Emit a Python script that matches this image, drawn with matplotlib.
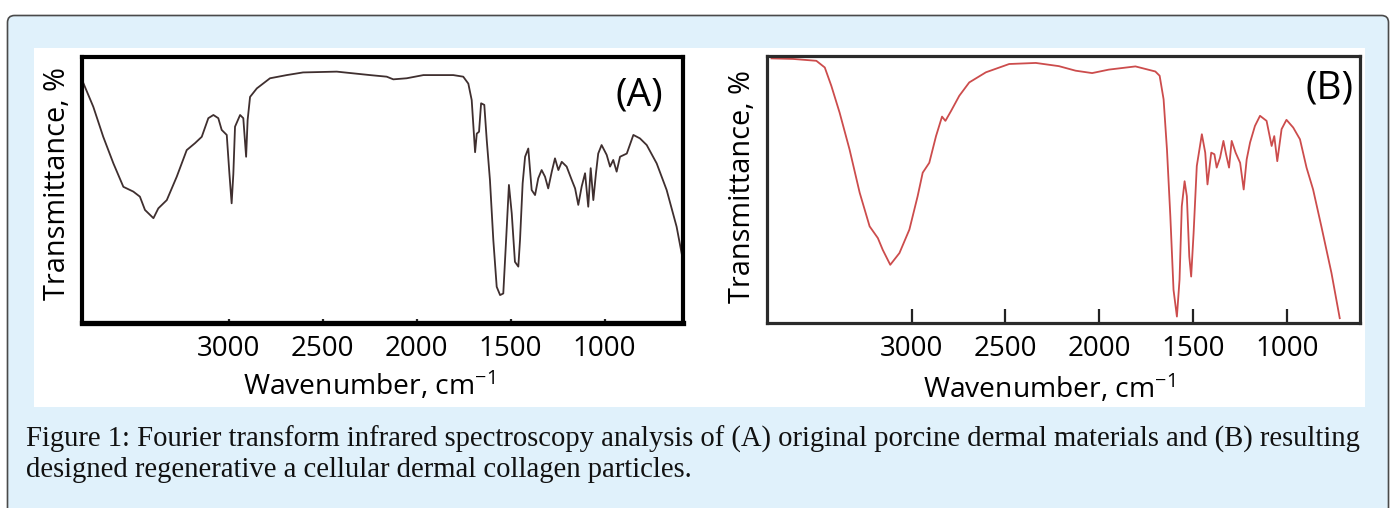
import matplotlib
matplotlib.use("Agg")
import matplotlib.pyplot as plt
from matplotlib.patches import FancyBboxPatch, Rectangle
from matplotlib.transforms import IdentityTransform

plt.rcParams['font.family'] = ['Open Sans', 'DejaVu Sans']
plt.rcParams['mathtext.default'] = 'regular'

# ---------------- data ----------------
tick_values = [3000, 2500, 2000, 1500, 1000]
tick_labels = ["3000", "2500", "2000", "1500", "1000"]

wn_a = [3780, 3720, 3667, 3613, 3560, 3507, 3472, 3445, 3400, 3374, 3329, 3276,
        3223, 3179, 3143, 3108, 3081, 3055, 3037, 3010, 2996, 2984, 2975, 2966,
        2939, 2922, 2907, 2899, 2886, 2850, 2780, 2691, 2604, 2425, 2248, 2159,
        2124, 2053, 1964, 1805, 1752, 1725, 1707, 1689, 1680, 1668, 1657, 1640,
        1627, 1610, 1592, 1574, 1556, 1539, 1524, 1509, 1494, 1477, 1459, 1450,
        1436, 1423, 1406, 1388, 1370, 1353, 1335, 1317, 1300, 1281, 1264, 1246,
        1228, 1202, 1175, 1157, 1140, 1122, 1104, 1087, 1074, 1060, 1046, 1034,
        1016, 989, 971, 954, 936, 918, 882, 847, 812, 776, 723, 670, 617, 583]
t_a = [91.4, 81.3, 70.0, 60.0, 51.2, 49.4, 47.5, 42.5, 39.4, 43.1, 46.2, 55.0,
       65.0, 67.6, 70.0, 77.0, 78.2, 77.0, 72.6, 70.7, 56.3, 45.0, 56.0, 73.8,
       78.2, 77.0, 62.5, 76.3, 85.0, 88.2, 92.0, 93.2, 94.2, 94.5, 93.2, 92.6,
       91.6, 92.0, 93.2, 93.2, 92.6, 90.0, 83.8, 64.2, 71.2, 71.9, 82.6, 82.0,
       68.8, 53.8, 31.2, 13.6, 10.5, 11.1, 31.2, 51.9, 41.2, 23.0, 21.2, 31.2,
       52.5, 62.5, 65.6, 50.0, 48.1, 54.4, 57.5, 55.0, 50.6, 56.9, 61.9, 57.5,
       60.6, 58.8, 53.8, 50.6, 44.4, 51.3, 56.3, 43.7, 58.2, 46.2, 56.3, 63.7,
       66.9, 63.2, 58.8, 61.3, 56.9, 62.5, 63.7, 70.7, 69.4, 66.9, 60.0, 50.0,
       36.2, 23.5]

wn_b = [3747, 3632, 3508, 3463, 3428, 3384, 3331, 3277, 3224, 3180, 3154, 3114,
        3065, 3012, 2968, 2941, 2906, 2870, 2838, 2820, 2790, 2746, 2693, 2604,
        2480, 2338, 2215, 2126, 2038, 1949, 1807, 1701, 1678, 1657, 1639, 1621,
        1604, 1586, 1572, 1560, 1545, 1533, 1520, 1510, 1497, 1480, 1453, 1435,
        1423, 1403, 1386, 1374, 1356, 1338, 1324, 1308, 1294, 1273, 1249, 1230,
        1214, 1196, 1170, 1143, 1108, 1081, 1067, 1051, 1028, 1002, 966, 930,
        895, 860, 816, 762, 718]
t_b = [99.1, 98.9, 98.2, 95.7, 88.8, 78.8, 65.0, 48.8, 36.2, 31.8, 27.4, 21.8,
       26.2, 35.0, 47.5, 56.3, 60.0, 70.0, 77.3, 75.7, 79.4, 85.1, 90.1, 93.9,
       97.0, 97.4, 96.2, 94.5, 93.6, 94.9, 96.1, 94.2, 92.6, 83.8, 65.0, 40.0,
       12.4, 2.4, 16.2, 43.7, 53.1, 47.5, 24.9, 17.4, 33.7, 58.8, 70.7, 63.8,
       51.9, 63.8, 63.2, 58.2, 61.9, 68.2, 63.2, 58.2, 68.2, 63.8, 60.0, 50.0,
       61.3, 67.6, 73.8, 77.6, 75.7, 66.3, 70.0, 60.6, 72.6, 76.1, 73.2, 68.8,
       58.2, 50.0, 36.2, 18.7, 1.8]

panel_tags = ["(A)", "(B)"]
y_label = "Transmittance, %"
x_label = r"Wavenumber, cm$^{-1}$"
caption_lines = [
    "Figure 1: Fourier transform infrared spectroscopy analysis of (A) original porcine dermal materials and (B) resulting",
    "designed regenerative a cellular dermal collagen particles.",
]

# ---------------- figure ----------------
W, H = 1392, 508
fig = plt.figure(figsize=(W / 100, H / 100), dpi=100, facecolor="white")

def px_rect(x0, y0, x1, y1):
    return [x0 / W, 1 - y1 / H, (x1 - x0) / W, (y1 - y0) / H]

# outer light-blue rounded box
outer = FancyBboxPatch((7.5, -20), 1381, 520 - 7.5,
                       boxstyle="round,pad=0,rounding_size=7",
                       transform=IdentityTransform(), facecolor="#e0f1fb",
                       edgecolor="#4a4a4a", linewidth=1.2, zorder=-2)
fig.add_artist(outer)
# white image panel
inner = Rectangle((34, H - 407), 1331, 359, transform=IdentityTransform(),
                  facecolor="white", edgecolor="none", zorder=-1)
fig.add_artist(inner)

def make_panel(rect, wn, t, color, xlim, tag, tag_xy, frame_lw, frame_color,
               tick_len, lbl_coords, ylbl_xy):
    ax = fig.add_axes(px_rect(*rect))
    ax.set_zorder(5)
    ax.set_facecolor("white")
    ax.plot(wn, t, color=color, lw=1.3, solid_joinstyle="round", clip_on=False)
    ax.set_xlim(*xlim)
    ax.set_ylim(0, 100)
    ax.set_yticks([])
    ax.set_xticks(tick_values)
    ax.set_xticklabels(tick_labels)
    ax.tick_params(axis="x", direction="in", length=tick_len, width=1.6,
                   color="#222222", pad=9, labelsize=20)
    for s in ax.spines.values():
        s.set_linewidth(frame_lw)
        s.set_color(frame_color)
    ax.set_xlabel(x_label, fontsize=20.3)
    ax.xaxis.set_label_coords(*lbl_coords)
    ax.set_ylabel(y_label, fontsize=20.8)
    ax.yaxis.set_label_coords(*ylbl_xy)
    ax.text(*tag_xy, tag, transform=ax.transAxes, fontsize=28,
            ha="center", va="center", color="black")
    return ax

ax_a = make_panel((82, 57, 683, 323), wn_a, t_a, "#3f2f2f", (3780, 583),
                  panel_tags[0], (0.928, 0.855), 3.0, "black", 3,
                  (0.478, -0.175), (-0.017, 0.526))
ax_a.spines["bottom"].set_linewidth(3.8)

ax_b = make_panel((767, 56, 1360, 323), wn_b, t_b, "#cc4c4c", (3771, 610),
                  panel_tags[1], (0.948, 0.88), 2.3, "#2a2a2a", 10,
                  (0.476, -0.187), (-0.017, 0.51))

# caption
fig.text(26 / W, 1 - 447 / H, caption_lines[0], fontsize=20.6,
         family="Liberation Serif", ha="left", va="baseline", color="#111111")
fig.text(26 / W, 1 - 477 / H, caption_lines[1], fontsize=20.6,
         family="Liberation Serif", ha="left", va="baseline", color="#111111")

fig.savefig("out.png", dpi=100, facecolor="white")
